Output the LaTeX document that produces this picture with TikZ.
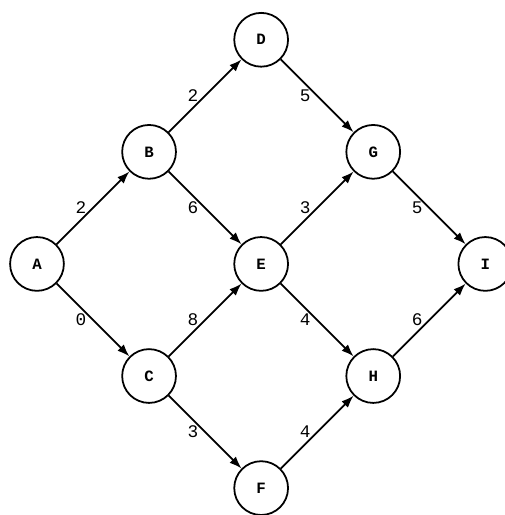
\documentclass[tikz,border=0pt]{standalone}
\usepackage{fontspec}
\setmonofont{Liberation Mono}
\usetikzlibrary{arrows.meta}

\begin{document}
\begin{tikzpicture}[
    vertex/.style={draw, circle, line width=0.9pt, minimum size=0.96cm, inner sep=0pt, font=\ttfamily\bfseries\footnotesize},
    edge/.style={-{Latex[length=2.2mm,width=1.6mm]}, line width=0.9pt},
    weight/.style={midway, left, inner sep=3pt, font=\ttfamily\small}
  ]
  % Page frame: same margins as the reference
  \useasboundingbox (-0.66,-4.48) rectangle (8.34,4.71);

  % Vertices: diamond grid, 2cm apart (A, E, I on the middle row)
  \node[vertex] (A) at (0,0)  {A};
  \node[vertex] (B) at (2,2)  {B};
  \node[vertex] (C) at (2,-2) {C};
  \node[vertex] (D) at (4,4)  {D};
  \node[vertex] (E) at (4,0)  {E};
  \node[vertex] (F) at (4,-4) {F};
  \node[vertex] (G) at (6,2)  {G};
  \node[vertex] (H) at (6,-2) {H};
  \node[vertex] (I) at (8,0)  {I};

  % Weighted edges, label on the left of each arrow
  \draw[edge] (A) -- node[weight] {2} (B);
  \draw[edge] (A) -- node[weight] {0} (C);
  \draw[edge] (B) -- node[weight] {2} (D);
  \draw[edge] (B) -- node[weight] {6} (E);
  \draw[edge] (C) -- node[weight] {8} (E);
  \draw[edge] (C) -- node[weight] {3} (F);
  \draw[edge] (D) -- node[weight] {5} (G);
  \draw[edge] (E) -- node[weight] {3} (G);
  \draw[edge] (E) -- node[weight] {4} (H);
  \draw[edge] (F) -- node[weight] {4} (H);
  \draw[edge] (G) -- node[weight] {5} (I);
  \draw[edge] (H) -- node[weight] {6} (I);
\end{tikzpicture}
\end{document}
